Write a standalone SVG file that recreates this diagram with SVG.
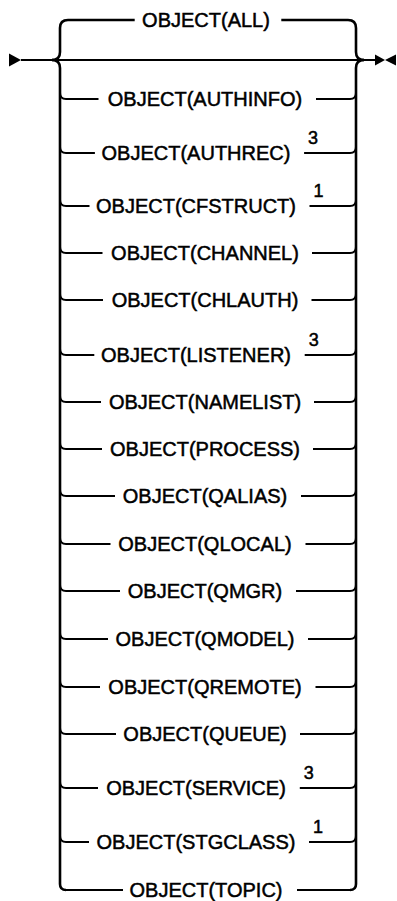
<svg xmlns="http://www.w3.org/2000/svg" width="397" height="901" viewBox="0 0 397 901">
<style>
.ln{fill:none;stroke:#000;stroke-width:2;stroke-linecap:butt}
.br{fill:none;stroke:#000;stroke-width:2.6}
.t{font-family:"Liberation Sans",Arial,sans-serif;font-size:20px;fill:#000;stroke:#000;stroke-width:0.5;text-anchor:middle}
.s{font-family:"Liberation Sans",Arial,sans-serif;font-size:18px;fill:#000;stroke:#000;stroke-width:0.5}
</style>
<rect width="397" height="901" fill="#fff"/>
<g id="connectors">
<polygon points="9,53.5 21,60 9,66.5" fill="#000"/>
<path class="ln" d="M21 60 H375"/>
<polygon points="375,54.5 385,60 375,65.5" fill="#000"/>
<polygon points="396,54.5 385,60 396,65.5" fill="#000"/>
<path class="br" d="M52 60 Q60 60 60 52 V28 Q60 20 68 20 H134.7"/>
<path class="br" d="M52 60 Q60 60 60 68 V884 Q60 890 66 890"/>
<path class="br" d="M281.3 20 H348 Q356 20 356 28 V52 Q356 60 364 60"/>
<path class="br" d="M364 60 Q356 60 356 68 V884 Q356 890 350 890"/>
<path class="ln" d="M60 93 Q60 99 66 99 H98.5 M316 99 H350 Q356 99 356 93"/>
<path class="ln" d="M60 147 Q60 153 66 153 H94.9 M304.1 153 H350 Q356 153 356 147"/>
<path class="ln" d="M60 200 Q60 206 66 206 H89.5 M309.5 206 H350 Q356 206 356 200"/>
<path class="ln" d="M60 247 Q60 253 66 253 H102.5 M312 253 H350 Q356 253 356 247"/>
<path class="ln" d="M60 294 Q60 300 66 300 H103 M311.5 300 H350 Q356 300 356 294"/>
<path class="ln" d="M60 349 Q60 355 66 355 H94.3 M304.7 355 H350 Q356 355 356 349"/>
<path class="ln" d="M60 396 Q60 402 66 402 H101 M314 402 H350 Q356 402 356 396"/>
<path class="ln" d="M60 443 Q60 449 66 449 H102 M313 449 H350 Q356 449 356 443"/>
<path class="ln" d="M60 490 Q60 496 66 496 H115 M301 496 H350 Q356 496 356 490"/>
<path class="ln" d="M60 538 Q60 544 66 544 H110.5 M305.5 544 H350 Q356 544 356 538"/>
<path class="ln" d="M60 585 Q60 591 66 591 H120 M296 591 H350 Q356 591 356 585"/>
<path class="ln" d="M60 633 Q60 639 66 639 H108 M308 639 H350 Q356 639 356 633"/>
<path class="ln" d="M60 681 Q60 687 66 687 H100 M315.5 687 H350 Q356 687 356 681"/>
<path class="ln" d="M60 728 Q60 734 66 734 H116 M300 734 H350 Q356 734 356 728"/>
<path class="ln" d="M60 782 Q60 788 66 788 H98 M299.8 788 H350 Q356 788 356 782"/>
<path class="ln" d="M60 836 Q60 842 66 842 H89 M309 842 H350 Q356 842 356 836"/>
<path class="ln" d="M66 890 H123 M297 890 H350"/>
</g>
<g id="n-all"><text class="t" x="206" y="27">OBJECT(ALL)</text></g>
<g id="n-authinfo"><text class="t" x="205" y="106">OBJECT(AUTHINFO)</text></g>
<g id="n-authrec"><text class="t" x="196" y="160">OBJECT(AUTHREC)</text><text class="s" x="308" y="143.5">3</text></g>
<g id="n-cfstruct"><text class="t" x="196" y="213">OBJECT(CFSTRUCT)</text><text class="s" x="313.5" y="196.5">1</text></g>
<g id="n-channel"><text class="t" x="205" y="260">OBJECT(CHANNEL)</text></g>
<g id="n-chlauth"><text class="t" x="205" y="307">OBJECT(CHLAUTH)</text></g>
<g id="n-listener"><text class="t" x="196" y="362">OBJECT(LISTENER)</text><text class="s" x="308.7" y="345.5">3</text></g>
<g id="n-namelist"><text class="t" x="205" y="409">OBJECT(NAMELIST)</text></g>
<g id="n-process"><text class="t" x="205" y="456">OBJECT(PROCESS)</text></g>
<g id="n-qalias"><text class="t" x="205" y="503">OBJECT(QALIAS)</text></g>
<g id="n-qlocal"><text class="t" x="205" y="551">OBJECT(QLOCAL)</text></g>
<g id="n-qmgr"><text class="t" x="205" y="598">OBJECT(QMGR)</text></g>
<g id="n-qmodel"><text class="t" x="205" y="646">OBJECT(QMODEL)</text></g>
<g id="n-qremote"><text class="t" x="205" y="694">OBJECT(QREMOTE)</text></g>
<g id="n-queue"><text class="t" x="205" y="741">OBJECT(QUEUE)</text></g>
<g id="n-service"><text class="t" x="196" y="795">OBJECT(SERVICE)</text><text class="s" x="303.8" y="778.5">3</text></g>
<g id="n-stgclass"><text class="t" x="196" y="849">OBJECT(STGCLASS)</text><text class="s" x="313" y="832.5">1</text></g>
<g id="n-topic"><text class="t" x="206" y="897">OBJECT(TOPIC)</text></g>
</svg>
